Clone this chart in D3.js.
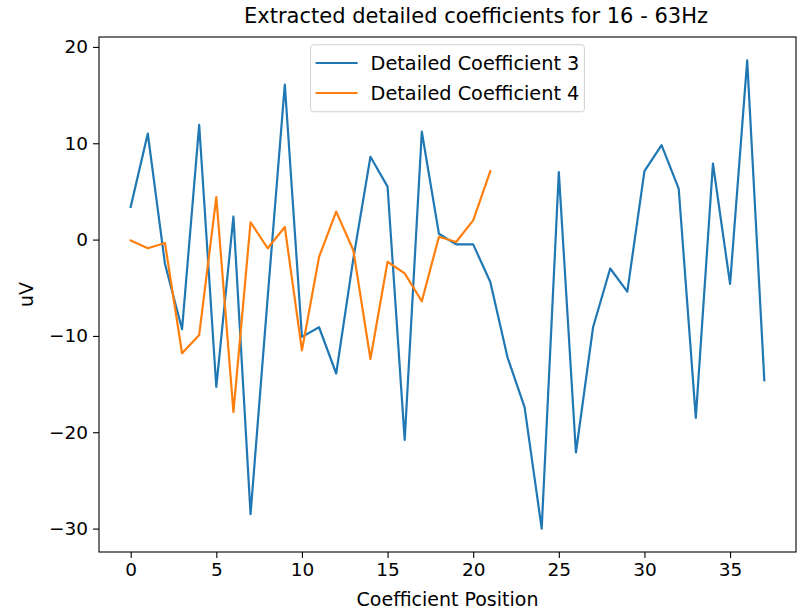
<!DOCTYPE html>
<html lang="en">
<head>
    <meta charset="UTF-8">
    <script src="https://d3js.org/d3.v7.min.js"></script>
    <title>Detailed coefficients</title>
    <style>
        body { margin: 0; background: #fff; }
        text { font-family: "DejaVu Sans", sans-serif; fill: #000; }
    </style>
</head>
<body>
<div id="chart"></div>
<script>

    // data
    const coef3 = [3.4, 11.0, -2.5, -9.3, 11.9, -15.3, 2.4, -28.5, -6.0, 16.1,
                   -10.1, -9.1, -13.9, -2.0, 8.6, 5.5, -20.8, 11.2, 0.6, -0.5,
                   -0.5, -4.4, -12.2, -17.4, -30.0, 7.0, -22.1, -9.1, -3.0, -5.4,
                   7.1, 9.8, 5.3, -18.5, 7.9, -4.6, 18.6, -14.6]
    const coef4 = [-0.1, -0.9, -0.35, -11.8, -9.9, 4.4, -17.9, 1.8, -0.9, 1.3,
                   -11.5, -1.8, 2.9, -1.1, -12.4, -2.3, -3.5, -6.4, 0.3, -0.25,
                   2.0, 7.1]
    const seriesNames = ["Detailed Coefficient 3", "Detailed Coefficient 4"]
    const xTicks = [0, 5, 10, 15, 20, 25, 30, 35]
    const yTicks = [-30, -20, -10, 0, 10, 20]

    const width = 800
    const height = 612
    const margin = {top: 37, right: 4, bottom: 60, left: 99}
    const colors = ["#1f77b4", "#ff7f0e"]

    const svg = d3.select("#chart")
        .append("svg")
        .attr("width", width)
        .attr("height", height)

    const series = [coef3, coef4].map((vals, i) => ({
        name: seriesNames[i],
        color: colors[i],
        points: vals.map((v, j) => [j, v])
    }))

    // matplotlib style 5% margins around the data
    const xMax = d3.max(series, s => s.points.length - 1)
    const yMin = d3.min(series, s => d3.min(s.points, p => p[1]))
    const yMax = d3.max(series, s => d3.max(s.points, p => p[1]))
    const yPad = (yMax - yMin) * 0.05

    const x = d3.scaleLinear()
        .domain([-xMax * 0.05, xMax * 1.05])
        .range([margin.left, width - margin.right])

    const y = d3.scaleLinear()
        .domain([yMin - yPad, yMax + yPad])
        .range([height - margin.bottom, margin.top])

    // axes
    const xAxis = svg.append("g")
        .attr("transform", `translate(0,${height - margin.bottom})`)
        .call(d3.axisBottom(x).tickValues(xTicks).tickSize(6).tickPadding(5))
    const yAxis = svg.append("g")
        .attr("transform", `translate(${margin.left},0)`)
        .call(d3.axisLeft(y).tickValues(yTicks).tickSize(6).tickPadding(5)
            .tickFormat(d => d < 0 ? "\u2212" + Math.abs(d) : d))

    for (const ax of [xAxis, yAxis]) {
        ax.select(".domain").remove()
        ax.selectAll(".tick line").attr("stroke", "#000").attr("stroke-width", 1.1)
        ax.selectAll(".tick text").style("font-size", "18.5px").attr("fill", "#000")
    }

    // lines
    const line = d3.line()
        .x(d => x(d[0]))
        .y(d => y(d[1]))

    svg.append("g")
        .selectAll("path")
        .data(series)
        .join("path")
            .attr("d", d => line(d.points))
            .attr("fill", "none")
            .attr("stroke", d => d.color)
            .attr("stroke-width", 2.2)
            .attr("stroke-linejoin", "round")
            .attr("stroke-linecap", "square")

    // frame
    svg.append("rect")
        .attr("x", margin.left)
        .attr("y", margin.top)
        .attr("width", width - margin.left - margin.right)
        .attr("height", height - margin.top - margin.bottom)
        .attr("fill", "none")
        .attr("stroke", "#000")
        .attr("stroke-width", 1.1)

    // title and labels
    const cx = (margin.left + width - margin.right) / 2
    svg.append("text")
        .attr("x", 476)
        .attr("y", 23)
        .attr("text-anchor", "middle")
        .style("font-size", "21px")
        .text("Extracted detailed coefficients for 16 - 63Hz")

    svg.append("text")
        .attr("x", cx)
        .attr("y", 606)
        .attr("text-anchor", "middle")
        .style("font-size", "19px")
        .text("Coefficient Position")

    svg.append("text")
        .attr("transform", `translate(33,${(margin.top + height - margin.bottom) / 2}) rotate(-90)`)
        .attr("text-anchor", "middle")
        .style("font-size", "19px")
        .text("uV")

    // legend, upper center
    const legend = svg.append("g")
    const items = legend.selectAll("g")
        .data(series)
        .join("g")
            .attr("transform", (d, i) => `translate(0,${i * 30})`)
    items.append("line")
        .attr("x1", 0).attr("x2", 42)
        .attr("y1", 0).attr("y2", 0)
        .attr("stroke", d => d.color)
        .attr("stroke-width", 2.2)
    items.append("text")
        .attr("x", 55)
        .attr("dy", "0.35em")
        .style("font-size", "19.3px")
        .text(d => d.name)

    const bb = legend.node().getBBox()
    const padX = 5, padY = 7
    const boxW = bb.width + padX * 2
    const boxLeft = cx - boxW / 2
    legend.attr("transform", `translate(${boxLeft + padX},63)`)
    legend.insert("rect", ":first-child")
        .attr("x", -padX)
        .attr("y", bb.y - padY)
        .attr("width", boxW)
        .attr("height", bb.height + padY * 2)
        .attr("rx", 3)
        .attr("fill", "#fff")
        .attr("fill-opacity", 0.8)
        .attr("stroke", "#d0d0d0")
        .attr("stroke-width", 1)

</script>
</body>
</html>
